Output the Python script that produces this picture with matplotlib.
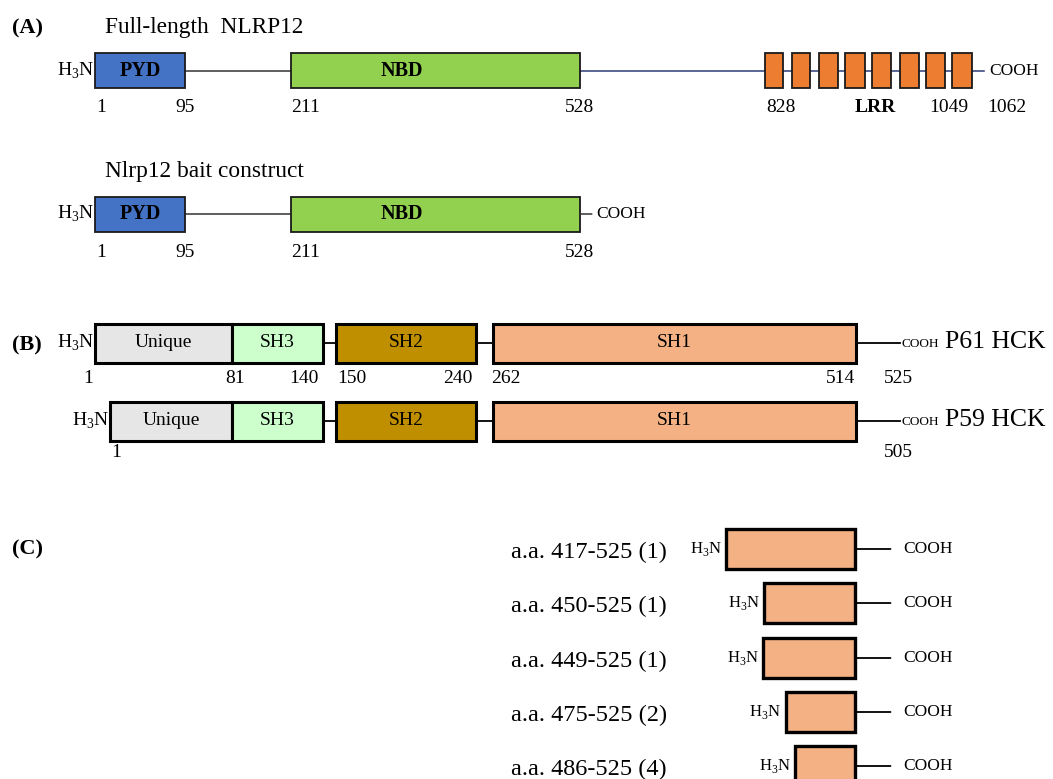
import numpy as np
import matplotlib.pyplot as plt
from matplotlib.patches import Rectangle

plt.rcParams['font.family'] = ['Liberation Serif', 'DejaVu Serif']
plt.rcParams['mathtext.fontset'] = 'custom'
plt.rcParams['mathtext.rm'] = 'Liberation Serif'

# NLRP12 (full length and bait construct)
nlrp12_len = 1062
nlrp12_names = ['PYD', 'NBD']
nlrp12_start = [1, 211]
nlrp12_end = [95, 528]
lrr_start = [828, 857, 886, 913, 942, 972, 1000, 1028]
lrr_end = [847, 876, 906, 935, 962, 992, 1020, 1049]
nlrp12_ticks = [1, 95, 211, 528, 828, 1049, 1062]
bait_end = 528
bait_ticks = [1, 95, 211, 528]

# HCK isoforms
hck_names = ['Unique', 'SH3', 'SH2', 'SH1']
hck_start = [1, 81, 150, 262]
hck_end = [81, 140, 240, 514]
p61_len = 525
p59_len = 505
p61_ticks = [1, 81, 140, 150, 240, 262, 514, 525]

# HCK fragments recovered in the screen
frag_start = [417, 450, 449, 475, 486]
frag_end = [525, 525, 525, 525, 525]
frag_clones = [1, 1, 1, 2, 4]

W, H = 1053, 779
H3N = r'H$_\mathregular{3}$N'
PT = 72 / 100  # points per pixel at dpi 100

fig = plt.figure(figsize=(W / 100, H / 100), dpi=100)


def interp_fn(xs, ys):
    xs = np.asarray(xs, float)
    ys = np.asarray(ys, float)
    s0 = (ys[1] - ys[0]) / (xs[1] - xs[0])
    s1 = (ys[-1] - ys[-2]) / (xs[-1] - xs[-2])

    def f(x):
        x = np.asarray(x, float)
        y = np.interp(x, xs, ys)
        y = np.where(x < xs[0], ys[0] + (x - xs[0]) * s0, y)
        y = np.where(x > xs[-1], ys[-1] + (x - xs[-1]) * s1, y)
        return y
    return f


def layer(res, px):
    # full-figure axes: x in residues (schematic scale), y in pixels
    ax = fig.add_axes([0, 0, 1, 1])
    ax.set_axis_off()
    fwd, inv = interp_fn(res, px), interp_fn(px, res)
    ax.set_xscale('function', functions=(fwd, inv))
    ax.set_xlim(float(inv(0)), float(inv(W)))
    ax.set_ylim(H, 0)
    return ax, fwd, inv


def box(ax, x0, x1, yc, h, fc, lw, ec='black'):
    ax.add_patch(Rectangle((x0, yc - h / 2), x1 - x0, h, fc=fc, ec=ec,
                           lw=lw, zorder=3, joinstyle='miter'))


def label(ax, x, y, s, dx=0, ha='center', size=14, **kw):
    ax.annotate(s, (x, y), xytext=(dx * PT, 0), textcoords='offset points',
                ha=ha, va='center', size=size, zorder=5, **kw)


def ftext(x, y, s, **kw):
    fig.text(x / W, 1 - y / H, s, **kw)


# ---------------- (A) NLRP12 ----------------
axA, fA, iA = layer([1, 95, 211, 528, 828, 1049], [95, 185, 291, 580, 765, 972])
a_cols = ['#4472C4', '#92D050']
name_dx = [0, -34]  # PYD centred, NBD set left of centre

ftext(12, 33, '(A)', weight='bold', size=16, va='baseline')
ftext(105, 33, 'Full-length  NLRP12', size=16.8, va='baseline')
ftext(105, 177, 'Nlrp12 bait construct', size=16.8, va='baseline')

for yc, end, ticks, ty in [(70.5, nlrp12_len, nlrp12_ticks, 107),
                           (214, bait_end, bait_ticks, 252)]:
    axA.plot([nlrp12_end[0], nlrp12_start[1]], [yc, yc], color='#333333', lw=1.1, zorder=1)
    for name, s, e, c, dx in zip(nlrp12_names, nlrp12_start, nlrp12_end, a_cols, name_dx):
        box(axA, s, e, yc, 35, c, 1.3, ec='#1a1a1a')
        label(axA, iA((fA(s) + fA(e)) / 2), yc, name, dx=dx, size=14.5, weight='bold')
    label(axA, 1, yc, H3N, dx=-1, ha='right', size=14)
    tick_ha = ['left', 'center', 'left', 'center', 'left', 'right', 'left']
    tick_dx = [1, 0, 0, 0, 1, -4, 3]
    for t, ha, dx in zip(ticks, tick_ha, tick_dx):
        label(axA, t, ty, str(t), dx=dx, ha=ha)

# full length: linker to the LRR repeats and C terminus
axA.plot([nlrp12_end[1], nlrp12_len], [70.5, 70.5], color='#2B3A78', lw=1.1, zorder=1)
for s, e in zip(lrr_start, lrr_end):
    box(axA, s, e, 70.5, 35, '#ED7D31', 1.3, ec='#1a1a1a')
label(axA, nlrp12_len, 70.5, 'COOH', dx=5, ha='left', size=12.5)
label(axA, iA((fA(lrr_start[0]) + fA(lrr_end[-1])) / 2), 107, 'LRR', dx=7, weight='bold')

# bait: stops after NBD
axA.annotate('COOH', (bait_end, 214), xytext=(16 * PT, 0), textcoords='offset points',
             ha='left', va='center', size=12.5,
             arrowprops=dict(arrowstyle='-', lw=1.1, color='#333333', shrinkA=1, shrinkB=0))

# ---------------- (B) HCK ----------------
p59_offset = p61_len - p59_len
axB, fB, iB = layer([1, 1 + p59_offset, 81, 140, 150, 240, 262, 514, 525],
                    [95, 110, 232, 323, 336, 476, 493, 856, 900])
b_cols = ['#E7E6E6', '#CCFFCC', '#BF8F00', '#F4B183']

ftext(12, 345, '(B)', weight='bold', size=16, va='center')
rows = [(343, 1, 'P61 HCK'), (421, 1 + p59_offset, 'P59 HCK')]
for yc, first, iso in rows:
    starts = [first] + hck_start[1:]
    for i, (name, s, e, c) in enumerate(zip(hck_names, starts, hck_end, b_cols)):
        box(axB, s, e, yc, 39, c, 2.2)
        label(axB, iB((fB(s) + fB(e)) / 2), yc - 1, name)
        if i < 3 and hck_start[i + 1] > e:
            axB.plot([e, hck_start[i + 1]], [yc, yc], color='black', lw=1.3, zorder=1)
    axB.plot([hck_end[-1], p61_len], [yc, yc], color='black', lw=1.3, zorder=1)
    label(axB, first, yc, H3N, dx=-1, ha='right', size=14)
    label(axB, p61_len, yc + 1, 'COOH', dx=2, ha='left', size=9.5)
    label(axB, p61_len, yc - 1, iso, dx=45, ha='left', size=18.5)

b_ha = ['right', 'center', 'right', 'left', 'right', 'left', 'right', 'center']
b_dx = [-2, 3, -4, 1, -3, -2, -1, -2]
for t, ha, dx in zip(p61_ticks, b_ha, b_dx):
    label(axB, t, 378, str(t), dx=dx, ha=ha)
label(axB, 1 + p59_offset, 452, '1', dx=1, ha='left')
label(axB, p59_len + p59_offset, 452, str(p59_len), dx=-2)

# ---------------- (C) HCK fragments ----------------
axC, fC, iC = layer([417, 450, 486, 525], [726, 764, 795, 855])
ftext(12, 549, '(C)', weight='bold', size=16, va='center')
row_y = [549, 603, 658, 712, 766]
for yc, s, e, n in zip(row_y, frag_start, frag_end, frag_clones):
    ftext(511, yc + 3, f'a.a. {s}-{e} ({n})', size=17.5, va='center')
    box(axC, s, e, yc, 40, '#F4B183', 2.4)
    label(axC, s, yc, H3N, dx=-4, ha='right', size=12)
    axC.annotate('COOH', (e, yc), xytext=(48 * PT, 0), textcoords='offset points',
                 ha='left', va='center', size=12.5,
                 arrowprops=dict(arrowstyle='-', lw=1.3, color='black', shrinkA=7, shrinkB=0))

fig.savefig('out.png', dpi=100, facecolor='white')
